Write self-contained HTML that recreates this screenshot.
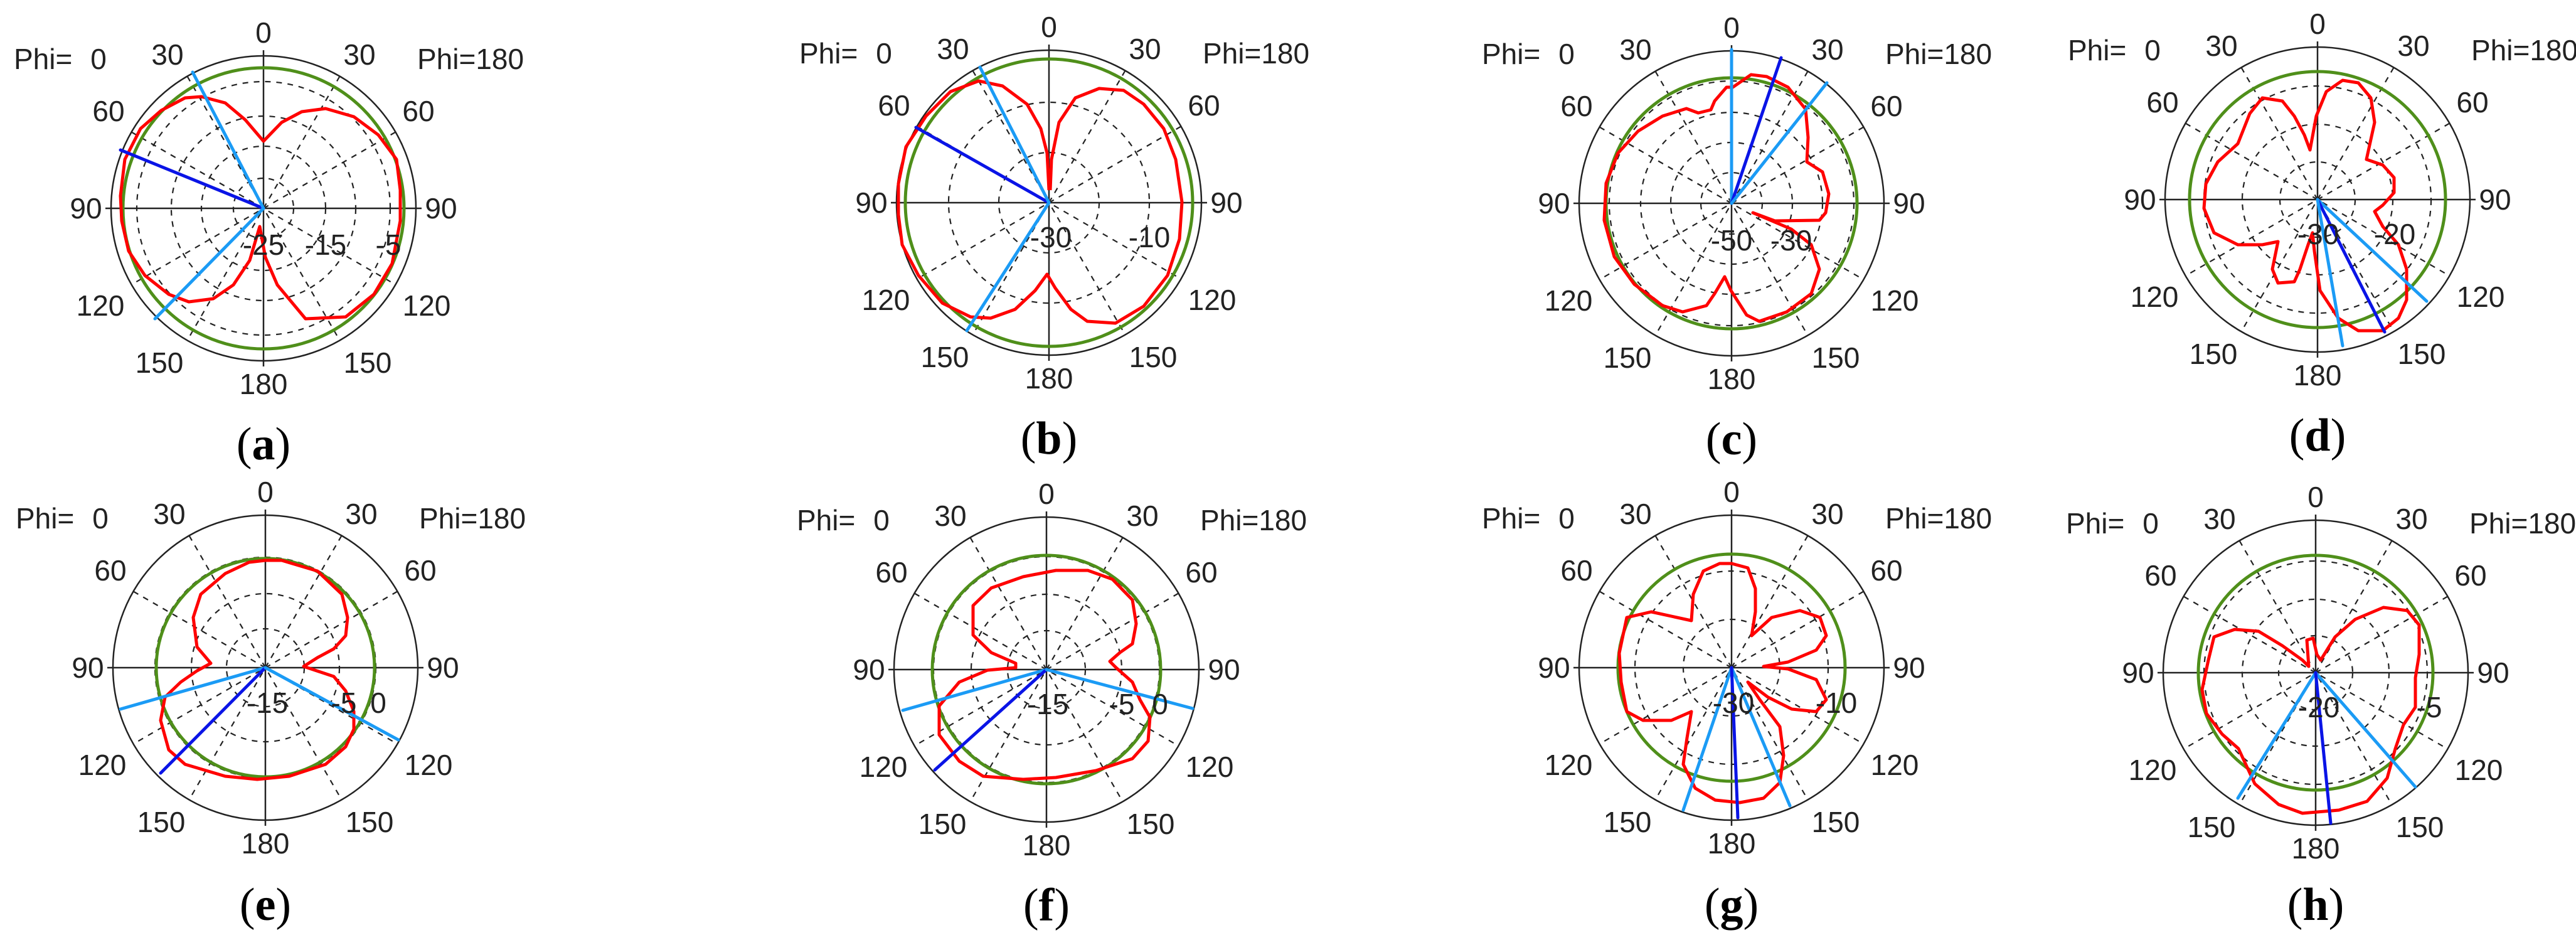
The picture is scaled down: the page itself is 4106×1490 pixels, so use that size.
<!DOCTYPE html>
<html><head><meta charset="utf-8"><style>
html,body{margin:0;padding:0;background:#fff;}
svg{display:block;}
.t{font-family:"Liberation Sans",sans-serif;font-size:46px;fill:#222;}
.cap{font-family:"Liberation Serif",serif;font-size:74px;fill:#000;}
.red{fill:none;stroke:#ff0000;stroke-width:5;stroke-linejoin:round;}
.grn{fill:none;stroke:#4f8f1a;stroke-width:5;}
.lb{stroke:#1b9bf5;stroke-width:5;stroke-linecap:round;}
.db{stroke:#0a14e6;stroke-width:5;stroke-linecap:round;}
.rg{fill:none;stroke:#222;stroke-width:2.2;stroke-dasharray:9 9;}
</style></head><body>
<svg width="4106" height="1490" viewBox="0 0 4106 1490" xmlns="http://www.w3.org/2000/svg">
<defs>
<g id="grid">
  <circle cx="0" cy="0" r="243" fill="none" stroke="#222" stroke-width="2.5"/>
  <line x1="-252" y1="0" x2="252" y2="0" stroke="#222" stroke-width="2.5"/>
  <line x1="0" y1="-252" x2="0" y2="252" stroke="#222" stroke-width="2.5"/>
  <g class="rg">
    <line x1="121.5" y1="-210.4" x2="-121.5" y2="210.4"/>
    <line x1="-121.5" y1="-210.4" x2="121.5" y2="210.4"/>
    <line x1="210.4" y1="-121.5" x2="-210.4" y2="121.5"/>
    <line x1="-210.4" y1="-121.5" x2="210.4" y2="121.5"/>
  </g>
</g>
<g id="lbl">
  <text class="t" x="0" y="-280" text-anchor="middle" dominant-baseline="central">0</text>
  <text class="t" x="-153" y="-245" text-anchor="middle" dominant-baseline="central">30</text>
  <text class="t" x="153" y="-245" text-anchor="middle" dominant-baseline="central">30</text>
  <text class="t" x="-247" y="-155" text-anchor="middle" dominant-baseline="central">60</text>
  <text class="t" x="247" y="-155" text-anchor="middle" dominant-baseline="central">60</text>
  <text class="t" x="-283" y="0" text-anchor="middle" dominant-baseline="central">90</text>
  <text class="t" x="283" y="0" text-anchor="middle" dominant-baseline="central">90</text>
  <text class="t" x="-260" y="155" text-anchor="middle" dominant-baseline="central">120</text>
  <text class="t" x="260" y="155" text-anchor="middle" dominant-baseline="central">120</text>
  <text class="t" x="-166" y="246" text-anchor="middle" dominant-baseline="central">150</text>
  <text class="t" x="166" y="246" text-anchor="middle" dominant-baseline="central">150</text>
  <text class="t" x="0" y="280" text-anchor="middle" dominant-baseline="central">180</text>
  <text class="t" x="-398" y="-238" dominant-baseline="central">Phi=</text>
  <text class="t" x="-263" y="-238" text-anchor="middle" dominant-baseline="central">0</text>
  <text class="t" x="245" y="-238" dominant-baseline="central">Phi=180</text>
</g>
</defs>

<!-- (a) -->
<g transform="translate(420,332)">
  <use href="#grid"/>
  <g class="rg"><circle r="48"/><circle r="99"/><circle r="147"/><circle r="202"/></g>
  <use href="#lbl"/>
  <circle class="grn" r="224"/>
  <path class="red" d="M0,-107 L-29,-141 L-61,-168 L-99,-178 L-125,-176 L-163,-156 L-196,-127 L-221,-78 L-228,-20 L-226,20 L-215,68 L-189,107 L-151,137 L-119,149 L-80,144 L-48,122 L-22,83 L-6,29 L3,78 L22,122 L67,176 L131,173 L176,137 L205,88 L218,20 L218,-29 L212,-78 L183,-117 L144,-146 L99,-159 L61,-154 L29,-137 Z"/>
  <line class="db" x1="0" y1="0" x2="-228" y2="-93"/>
  <line class="lb" x1="0" y1="0" x2="-113" y2="-217"/>
  <line class="lb" x1="0" y1="0" x2="-173" y2="176"/>
  <text class="t" x="0" y="58" text-anchor="middle" dominant-baseline="central">-25</text>
  <text class="t" x="99" y="58" text-anchor="middle" dominant-baseline="central">-15</text>
  <text class="t" x="199" y="58" text-anchor="middle" dominant-baseline="central">-5</text>
  <text class="cap" x="0" y="400" text-anchor="middle">(<tspan font-weight="bold">a</tspan>)</text>
</g>

<!-- (b) -->
<g transform="translate(1672,323)">
  <use href="#grid"/>
  <g class="rg"><circle r="80"/><circle r="160"/></g>
  <use href="#lbl"/>
  <circle class="grn" r="229"/>
  <path class="red" d="M0,-20 L-3,-79 L-13,-118 L-35,-157 L-74,-186 L-112,-194 L-157,-177 L-196,-138 L-228,-89 L-240,-30 L-240,19 L-234,67 L-208,116 L-170,160 L-125,182 L-93,184 L-54,170 L-22,140 L-3,114 L10,136 L35,170 L61,189 L106,192 L151,165 L189,116 L208,58 L212,-1 L202,-69 L183,-118 L151,-157 L119,-179 L80,-182 L42,-167 L16,-128 L4,-69 L2,-20"/>
  <line class="db" x1="0" y1="0" x2="-212" y2="-120"/>
  <line class="lb" x1="0" y1="0" x2="-110" y2="-216"/>
  <line class="lb" x1="0" y1="0" x2="-131" y2="204"/>
  <text class="t" x="3" y="55" text-anchor="middle" dominant-baseline="central">-30</text>
  <text class="t" x="160" y="55" text-anchor="middle" dominant-baseline="central">-10</text>
  <text class="cap" x="0" y="400" text-anchor="middle">(<tspan font-weight="bold">b</tspan>)</text>
</g>

<!-- (c) -->
<g transform="translate(2760,324)">
  <use href="#grid"/>
  <g class="rg"><circle r="49"/><circle r="97"/><circle r="145"/><circle r="195"/></g>
  <use href="#lbl"/>
  <circle class="grn" r="200"/>
  <path class="red" d="M-8,-185 L2,-185 L31,-205 L56,-202 L90,-185 L118,-150 L122,-105 L120,-66 L145,-50 L155,-15 L150,15 L140,27 L69,28 L34,15 L95,41 L127,66 L140,105 L127,144 L88,173 L44,188 L24,178 L-1,139 L-11,117 L-27,144 L-40,163 L-78,173 L-110,163 L-155,129 L-187,85 L-203,27 L-200,-32 L-181,-80 L-149,-115 L-110,-139 L-72,-151 L-53,-144 L-33,-149 L-27,-163 Z"/>
  <line class="lb" x1="0" y1="0" x2="0" y2="-245"/>
  <line class="db" x1="0" y1="0" x2="79" y2="-232"/>
  <line class="lb" x1="0" y1="0" x2="152" y2="-192"/>
  <text class="t" x="0" y="59" text-anchor="middle" dominant-baseline="central">-50</text>
  <text class="t" x="95" y="59" text-anchor="middle" dominant-baseline="central">-30</text>
  <text class="cap" x="0" y="400" text-anchor="middle">(<tspan font-weight="bold">c</tspan>)</text>
</g>

<!-- (d) -->
<g transform="translate(3694,318)">
  <use href="#grid"/>
  <g class="rg"><circle r="60"/><circle r="120"/><circle r="181"/></g>
  <use href="#lbl"/>
  <circle class="grn" r="204"/>
  <path class="red" d="M-12,-79 L-2,-133 L14,-172 L40,-190 L65,-186 L85,-162 L91,-123 L78,-64 L104,-55 L122,-35 L122,-11 L104,9 L91,19 L104,43 L129,72 L142,111 L142,160 L129,189 L104,209 L65,209 L33,189 L4,145 L-5,82 L-8,53 L-15,72 L-28,111 L-37,131 L-63,133 L-72,111 L-63,67 L-88,72 L-127,72 L-165,53 L-181,14 L-178,-25 L-159,-60 L-127,-89 L-108,-137 L-88,-162 L-56,-157 L-37,-133 L-21,-103 Z"/>
  <line class="lb" x1="0" y1="0" x2="174" y2="162"/>
  <line class="db" x1="0" y1="0" x2="107" y2="211"/>
  <line class="lb" x1="0" y1="0" x2="40" y2="233"/>
  <text class="t" x="1" y="55" text-anchor="middle" dominant-baseline="central">-30</text>
  <text class="t" x="123" y="55" text-anchor="middle" dominant-baseline="central">-20</text>
  <text class="cap" x="0" y="400" text-anchor="middle">(<tspan font-weight="bold">d</tspan>)</text>
</g>

<!-- (e) -->
<g transform="translate(423,1064)">
  <use href="#grid"/>
  <g class="rg"><circle r="62"/><circle r="118"/><circle r="176"/></g>
  <use href="#lbl"/>
  <circle class="grn" r="174"/>
  <path class="red" d="M0,-171 L26,-171 L83,-154 L122,-117 L131,-80 L128,-51 L109,-30 L83,-16 L61,-2 L109,14 L128,37 L141,70 L141,98 L128,126 L96,154 L38,173 L-13,178 L-64,173 L-128,154 L-154,131 L-167,84 L-160,47 L-135,23 L-109,5 L-87,-7 L-109,-33 L-115,-80 L-103,-117 L-64,-150 L-26,-168 Z"/>
  <line class="lb" x1="0" y1="0" x2="-231" y2="66"/>
  <line class="db" x1="0" y1="0" x2="-167" y2="168"/>
  <line class="lb" x1="0" y1="0" x2="212" y2="115"/>
  <text class="t" x="3" y="56" text-anchor="middle" dominant-baseline="central">-15</text>
  <text class="t" x="125" y="56" text-anchor="middle" dominant-baseline="central">-5</text>
  <text class="t" x="180" y="56" text-anchor="middle" dominant-baseline="central">0</text>
  <text class="cap" x="0" y="402" text-anchor="middle">(<tspan font-weight="bold">e</tspan>)</text>
</g>

<!-- (f) -->
<g transform="translate(1668,1067)">
  <use href="#grid"/>
  <g class="rg"><circle r="62"/><circle r="120"/><circle r="180"/></g>
  <use href="#lbl"/>
  <circle class="grn" r="182"/>
  <path class="red" d="M15,-158 L66,-158 L105,-144 L137,-111 L143,-73 L137,-41 L117,-27 L101,-13 L111,-3 L137,20 L149,48 L165,76 L162,114 L137,142 L79,161 L15,172 L-37,175 L-101,170 L-139,146 L-171,104 L-171,58 L-139,20 L-94,1 L-49,-3 L-49,-10 L-88,-27 L-117,-55 L-117,-102 L-88,-130 L-37,-148 Z"/>
  <line class="lb" x1="0" y1="0" x2="-229" y2="65"/>
  <line class="db" x1="0" y1="0" x2="-178" y2="160"/>
  <line class="lb" x1="0" y1="0" x2="233" y2="62"/>
  <text class="t" x="2" y="55" text-anchor="middle" dominant-baseline="central">-15</text>
  <text class="t" x="120" y="55" text-anchor="middle" dominant-baseline="central">-5</text>
  <text class="t" x="181" y="55" text-anchor="middle" dominant-baseline="central">0</text>
  <text class="cap" x="0" y="400" text-anchor="middle">(<tspan font-weight="bold">f</tspan>)</text>
</g>

<!-- (g) -->
<g transform="translate(2760,1064)">
  <use href="#grid"/>
  <g class="rg"><circle r="77"/><circle r="154"/></g>
  <use href="#lbl"/>
  <circle class="grn" r="181"/>
  <path class="red" d="M0,-166 L26,-159 L38,-126 L38,-89 L32,-51 L64,-80 L109,-91 L141,-80 L151,-51 L135,-28 L90,-9 L51,-2 L90,2 L135,19 L151,51 L135,70 L96,66 L58,47 L26,23 L45,51 L77,94 L83,140 L77,183 L51,208 L13,215 L-26,211 L-58,192 L-77,154 L-71,112 L-64,70 L-96,84 L-141,84 L-167,70 L-176,23 L-179,-23 L-167,-80 L-128,-89 L-64,-75 L-61,-117 L-45,-154 L-19,-166 Z"/>
  <line class="lb" x1="0" y1="0" x2="-77" y2="227"/>
  <line class="lb" x1="0" y1="0" x2="93" y2="220"/>
  <line class="db" x1="0" y1="0" x2="10" y2="239"/>
  <text class="t" x="3" y="56" text-anchor="middle" dominant-baseline="central">-30</text>
  <text class="t" x="167" y="56" text-anchor="middle" dominant-baseline="central">-10</text>
  <text class="cap" x="0" y="402" text-anchor="middle">(<tspan font-weight="bold">g</tspan>)</text>
</g>

<!-- (h) -->
<g transform="translate(3691,1072)">
  <use href="#grid"/>
  <g class="rg"><circle r="59"/><circle r="117"/><circle r="178"/></g>
  <use href="#lbl"/>
  <circle class="grn" r="187"/>
  <path class="red" d="M-11,-10 L-14,-52 L-4,-55 L2,-29 L8,-20 L31,-57 L63,-85 L108,-104 L146,-99 L165,-76 L165,-29 L159,8 L159,55 L140,83 L127,121 L114,168 L82,205 L37,219 L-21,224 L-59,210 L-97,177 L-123,121 L-149,98 L-174,65 L-181,27 L-171,-20 L-162,-57 L-129,-69 L-91,-66 L-53,-43 L-21,-20 Z"/>
  <line class="lb" x1="0" y1="0" x2="-124" y2="200"/>
  <line class="lb" x1="0" y1="0" x2="159" y2="182"/>
  <line class="db" x1="0" y1="0" x2="24" y2="240"/>
  <text class="t" x="5" y="55" text-anchor="middle" dominant-baseline="central">-20</text>
  <text class="t" x="181" y="55" text-anchor="middle" dominant-baseline="central">-5</text>
  <text class="cap" x="0" y="394" text-anchor="middle">(<tspan font-weight="bold">h</tspan>)</text>
</g>
</svg>
</body></html>
